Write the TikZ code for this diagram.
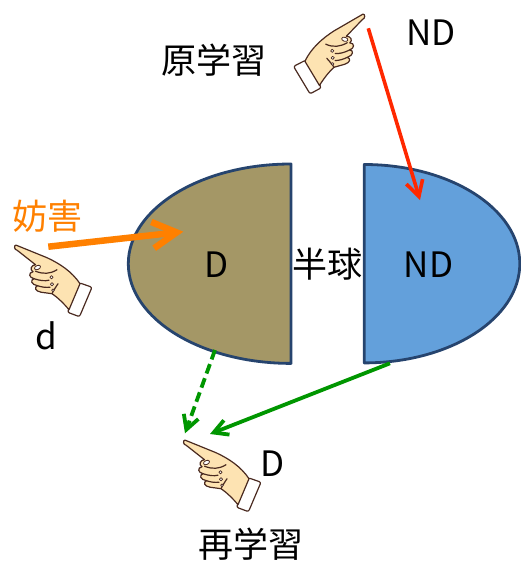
\documentclass[tikz,border=0pt]{standalone}
\usepackage{fontspec}
\setmainfont{Noto Sans CJK JP}
\usetikzlibrary{arrows.meta}

\definecolor{halfD}{RGB}{164,151,102}
\definecolor{halfND}{RGB}{99,160,219}
\definecolor{rim}{RGB}{38,68,110}
\definecolor{redline}{RGB}{255,40,0}
\definecolor{orangeline}{RGB}{255,128,0}
\definecolor{greenline}{RGB}{0,150,0}
\definecolor{skin}{RGB}{253,227,178}
\definecolor{inkbrown}{RGB}{74,42,32}

\tikzset{
  lbl/.style={inner sep=0pt, font=\fontsize{35}{40}\selectfont},
  half/.style={draw=rim, line width=2.8pt, line join=round},
  barb/.style={-{Straight Barb[length=#1, width=1.1*#1, line join=miter]}},
  handline/.style={draw=inkbrown, line width=1.2pt, line join=round, line cap=round},
  hand/.pic={
    % shirt cuff
    \filldraw[handline, fill=white, rounded corners=2pt]
      (63,35) -- (76,39.5) -- (63.5,69) -- (51.5,64.5) -- cycle;
    % finger, back of hand, palm and curled fingers
    \filldraw[handline, fill=skin]
      (0,-2.6) -- (31,10) .. controls (44,16) and (56,24) .. (64,36)
      -- (53,62) .. controls (48,56) and (42,50) .. (36,46)
      -- (25,44.5) .. controls (19,43.5) and (18,39.5) .. (21.5,38)
      .. controls (15,37) and (14,32) .. (18,31)
      .. controls (13,30) and (12,25) .. (17,24)
      .. controls (13.5,22) and (15,17.5) .. (19.5,17)
      -- (1.2,2.6) .. controls (-2,2.2) and (-2.2,-2.6) .. (0,-2.6) -- cycle;
    % thumb and finger creases
    \draw[handline] (19.5,23.5) .. controls (27,26.5) and (34,26.5) .. (41,22);
    \draw[handline] (18,31) .. controls (24,33) and (29,33.5) .. (33,32.5);
    \draw[handline] (21.5,38) .. controls (26,39.5) and (30,40) .. (34,39.5);
    \draw[handline] (36,46) .. controls (38,42) and (40,39) .. (42,36);
    % nail and knuckle highlights
    \filldraw[handline, fill=white, line width=0.8pt, rotate around={25:(21.5,19.8)}]
      (21.5,19.8) ellipse[x radius=3.2, y radius=2];
    \filldraw[handline, fill=white, line width=0.7pt] (35.5,29.5) circle[radius=1.6];
    \filldraw[handline, fill=white, line width=0.7pt] (36,36.5) circle[radius=1.6];
    \filldraw[handline, fill=white, line width=0.7pt] (37,42.5) circle[radius=1.4];
  }
}

\begin{document}
\begin{tikzpicture}[x=1pt, y=-1pt]
  \useasboundingbox (0,0) rectangle (521,563);

  % the two halves of the sphere
  \path[half, fill=halfD]
    (291,164) arc[start angle=270, end angle=90, x radius=162.7, y radius=99.7] -- cycle;
  \path[half, fill=halfND]
    (364.3,164.5) arc[start angle=-90, end angle=90, x radius=155.5, y radius=99.2] -- cycle;

  \node[lbl] (dIn)  at (216.5,265) {D};
  \node[lbl] (ndIn) at (428.5,265) {ND};
  \node[lbl] (hemi) at (327.5,264) {半球};

  % labels
  \node[lbl] (orig)    at (214,60)    {原学習};
  \node[lbl] (ndTop)   at (431,32.5)  {ND};
  \node[lbl, text=orangeline] (interf) at (47.5,216.5) {妨害};
  \node[lbl] (dLeft)   at (46,335.5)  {d};
  \node[lbl] (dBottom) at (272.5,464) {D};
  \node[lbl] (relearn) at (251,544)   {再学習};

  % pointing hands
  \pic (handTop)    at (363.3,16.7) [xscale=-1, rotate=-8] {hand};
  \pic (handLeft)   at (16,247.7)   {hand};
  \pic (handBottom) at (185,442.7)  {hand};

  % arrow end points
  \coordinate (redS) at (368.3,28.3);
  \coordinate (redE) at (420,200);
  \coordinate (orS)  at (48.3,246.7);
  \coordinate (orE)  at (183.3,231.7);
  \coordinate (gdS)  at (215,350);
  \coordinate (gdE)  at (185,433.3);
  \coordinate (gsS)  at (390,363.3);
  \coordinate (gsE)  at (210,434);

  % arrows
  \draw[redline, line width=3.6pt, barb=15.5pt] (redS) -- (redE);
  \draw[orangeline, line width=6.5pt, barb=24pt] (orS) -- (orE);
  \draw[greenline, line width=3.8pt, barb=14pt, dash pattern=on 10pt off 5pt] (gdS) -- (gdE);
  \draw[greenline, line width=3.8pt, barb=14pt] (gsS) -- (gsE);
\end{tikzpicture}
\end{document}
